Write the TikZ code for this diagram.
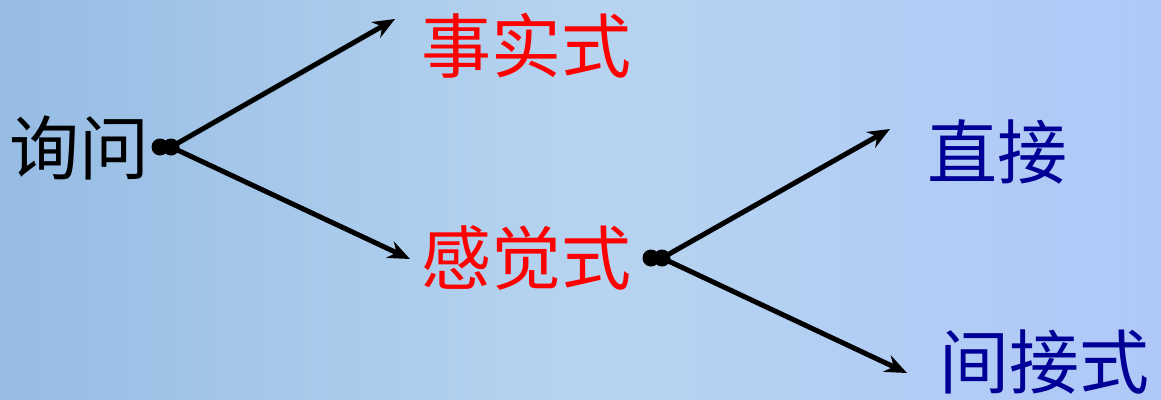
\documentclass[tikz,border=0pt]{standalone}
\usepackage{fontspec}
\newfontfamily\cjk{Noto Sans CJK SC}
\usetikzlibrary{arrows.meta}
\definecolor{bgL}{RGB}{150,188,228}
\definecolor{bgM}{RGB}{182,212,240}
\definecolor{bgR}{RGB}{175,200,248}
\definecolor{navy}{RGB}{0,0,150}
\tikzset{
  lbl/.style={font=\cjk\fontsize{70}{70}\selectfont, inner sep=0pt, anchor=west},
  dotc/.style={circle, fill=black, minimum size=17pt, inner sep=0pt},
  arr/.style={line width=5pt, -{Stealth[length=22pt,width=18pt]}}
}
\begin{document}
\begin{tikzpicture}[x=1pt,y=-1pt]
\useasboundingbox (0,0) rectangle (1161,399);
\shade[left color=bgL, right color=bgR, middle color=bgM] (0,0) rectangle (1161,399);
% labels
\node[lbl, text=black] (a) at (9,148) {询问};
\node[lbl, text=red] (b) at (421,46) {事实式};
\node[lbl, text=red] (c) at (421,258) {感觉式};
\node[lbl, text=navy] (d) at (927,152) {直接};
\node[lbl, text=navy] (e) at (939,362) {间接式};
% dots
\node[dotc] (a1) at (160,147) {};
\node[dotc] (a2) at (171,147) {};
\node[dotc] (c1) at (651,258) {};
\node[dotc] (c2) at (662,258) {};
% arrow tips
\coordinate (tb) at (395,19);
\coordinate (tc) at (410,259);
\coordinate (td) at (890,129);
\coordinate (te) at (907,373);
\draw[arr] (a2.center) -- (tb);
\draw[arr] (a2.center) -- (tc);
\draw[arr] (c2.center) -- (td);
\draw[arr] (c2.center) -- (te);
\end{tikzpicture}
\end{document}
